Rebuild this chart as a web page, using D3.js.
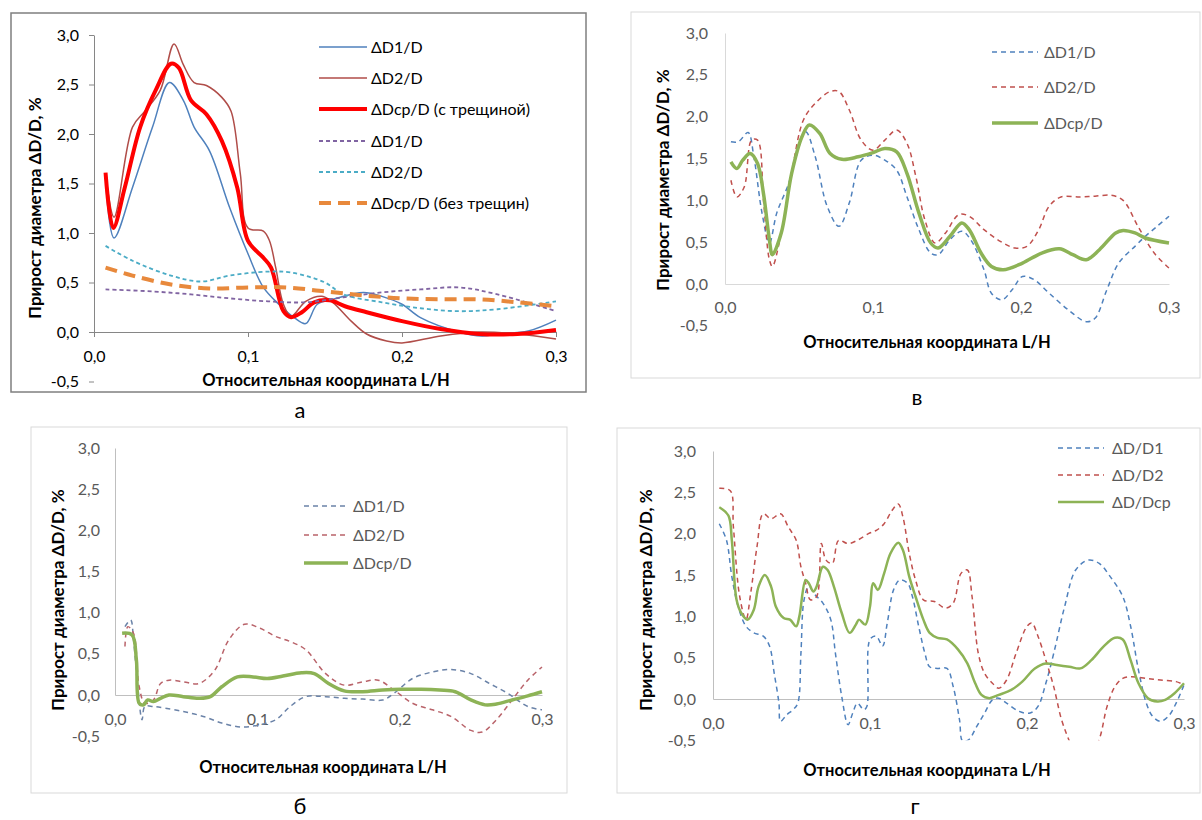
<!DOCTYPE html>
<html>
<head>
<meta charset="utf-8">
<script src="https://cdn.jsdelivr.net/npm/d3@7"></script>
<style>
  body { margin: 0; background: #fff; }
  svg { display: block; }
  text { font-family: Lato, "Open Sans", sans-serif; }
</style>
</head>
<body>
<script>
'use strict';

// ---- axis ticks (same for all four plots) ----
const xTicks = [0, 0.1, 0.2, 0.3];
const xTickLabels = ["0,0", "0,1", "0,2", "0,3"];
const yTicks = [3, 2.5, 2, 1.5, 1, 0.5, 0, -0.5];
const yTickLabels = ["3,0", "2,5", "2,0", "1,5", "1,0", "0,5", "0,0", "-0,5"];
const xTitle = "Относительная координата L/H";
const yTitle = "Прирост диаметра ΔD/D, %";

// ---- panel а : [L/H, ΔD/D %] ----
const aD1 = [[0.0075,1.55],[0.013,0.95],[0.025,1.46],[0.038,2.07],[0.049,2.52],[0.058,2.34],[0.065,2.07],
  [0.075,1.83],[0.088,1.26],[0.1,0.79],[0.11,0.45],[0.12,0.28],[0.13,0.145],[0.1375,0.085],[0.145,0.28],
  [0.155,0.33],[0.175,0.4],[0.187,0.36],[0.2,0.28],[0.212,0.145],[0.237,0],[0.252,-0.04],[0.262,-0.02],
  [0.282,0.01],[0.3,0.12]];
const aD2 = [[0.0075,1.6],[0.013,1.16],[0.025,2.07],[0.033,2.23],[0.043,2.44],[0.052,2.91],[0.058,2.7],
  [0.065,2.52],[0.073,2.49],[0.083,2.37],[0.089,2.23],[0.095,1.6],[0.1,1.05],[0.11,1.02],[0.114,0.92],
  [0.118,0.65],[0.123,0.28],[0.128,0.16],[0.1375,0.31],[0.148,0.36],[0.155,0.3],[0.167,0.11],[0.177,-0.02],
  [0.19,-0.09],[0.2,-0.11],[0.225,-0.04],[0.25,0],[0.275,-0.02],[0.3,-0.07]];
const aDcp = [[0.0075,1.61],[0.0125,1.05],[0.02,1.46],[0.03,2.07],[0.04,2.44],[0.05,2.71],[0.055,2.67],
  [0.063,2.34],[0.073,2.2],[0.083,1.93],[0.093,1.46],[0.1,0.92],[0.11,0.75],[0.115,0.65],[0.123,0.21],
  [0.128,0.15],[0.135,0.2],[0.143,0.3],[0.153,0.32],[0.163,0.26],[0.177,0.2],[0.2,0.11],[0.225,0.03],
  [0.25,-0.02],[0.275,-0.02],[0.3,0.02]];
const aD1n = [[0.0075,0.43],[0.038,0.41],[0.063,0.38],[0.088,0.34],[0.113,0.31],[0.1375,0.3],[0.162,0.35],
  [0.187,0.4],[0.212,0.43],[0.237,0.45],[0.262,0.38],[0.3,0.21]];
const aD2n = [[0.0075,0.87],[0.025,0.72],[0.05,0.57],[0.07,0.51],[0.088,0.57],[0.113,0.61],[0.128,0.6],
  [0.15,0.5],[0.162,0.38],[0.187,0.3],[0.212,0.24],[0.237,0.21],[0.262,0.23],[0.3,0.31]];
const aDcpn = [[0.0075,0.65],[0.025,0.57],[0.05,0.48],[0.075,0.44],[0.1,0.45],[0.125,0.45],[0.15,0.41],
  [0.175,0.37],[0.2,0.34],[0.225,0.33],[0.25,0.33],[0.275,0.3],[0.3,0.26]];

// ---- panel в ----
const vD1 = [[0.004,1.7],[0.009,1.7],[0.0156,1.81],[0.0195,1.52],[0.025,0.85],[0.03,0.49],[0.035,0.85],
  [0.043,1.2],[0.048,1.52],[0.0545,1.82],[0.061,1.52],[0.069,0.93],[0.077,0.69],[0.084,0.97],[0.092,1.48],
  [0.1,1.54],[0.108,1.48],[0.116,1.36],[0.123,1.04],[0.131,0.65],[0.139,0.37],[0.144,0.35],[0.152,0.53],
  [0.16,0.63],[0.166,0.53],[0.175,0.17],[0.18,-0.11],[0.187,-0.19],[0.194,-0.07],[0.201,0.09],[0.209,0.05],
  [0.219,-0.11],[0.232,-0.31],[0.244,-0.45],[0.25,-0.41],[0.258,-0.07],[0.266,0.25],[0.277,0.45],
  [0.284,0.57],[0.292,0.69],[0.3,0.81]];
const vD2 = [[0.004,1.24],[0.008,1.04],[0.013,1.16],[0.018,1.72],[0.022,1.72],[0.026,1.0],[0.03,0.29],
  [0.032,0.21],[0.038,0.61],[0.045,1.32],[0.053,1.96],[0.061,2.16],[0.071,2.3],[0.077,2.3],[0.084,2.08],
  [0.092,1.72],[0.1,1.6],[0.108,1.72],[0.116,1.84],[0.123,1.68],[0.129,1.28],[0.135,0.77],[0.142,0.49],
  [0.149,0.61],[0.158,0.83],[0.165,0.81],[0.175,0.65],[0.186,0.51],[0.196,0.43],[0.204,0.45],[0.212,0.65],
  [0.219,0.93],[0.227,1.04],[0.24,1.04],[0.25,1.05],[0.261,1.06],[0.269,1.0],[0.279,0.69],[0.29,0.37],
  [0.3,0.19]];
const vDcp = [[0.004,1.46],[0.008,1.38],[0.012,1.48],[0.017,1.56],[0.022,1.44],[0.026,1.08],[0.03,0.53],
  [0.032,0.35],[0.038,0.61],[0.045,1.32],[0.052,1.76],[0.057,1.9],[0.064,1.8],[0.071,1.56],[0.079,1.49],
  [0.09,1.52],[0.1,1.57],[0.108,1.62],[0.116,1.58],[0.123,1.32],[0.131,0.85],[0.139,0.49],[0.144,0.43],
  [0.152,0.57],[0.16,0.73],[0.165,0.65],[0.173,0.37],[0.18,0.21],[0.188,0.17],[0.201,0.25],[0.214,0.37],
  [0.226,0.42],[0.235,0.35],[0.244,0.29],[0.253,0.41],[0.264,0.61],[0.269,0.64],[0.277,0.61],[0.284,0.55],
  [0.3,0.49]];

// ---- panel б ----
const bD1 = [[0.007,0.83],[0.011,0.91],[0.013,0.67],[0.016,0.1],[0.019,-0.3],[0.021,-0.14],[0.027,-0.14],
  [0.035,-0.16],[0.048,-0.2],[0.062,-0.26],[0.075,-0.34],[0.089,-0.39],[0.102,-0.36],[0.113,-0.3],
  [0.123,-0.14],[0.134,-0.02],[0.148,-0.02],[0.161,-0.04],[0.174,-0.05],[0.188,-0.06],[0.196,0.02],
  [0.209,0.2],[0.223,0.28],[0.236,0.31],[0.25,0.26],[0.263,0.14],[0.276,0.02],[0.29,-0.14],[0.3,-0.18]];
const bD2 = [[0.007,0.59],[0.009,0.83],[0.013,0.75],[0.017,0.1],[0.021,-0.1],[0.027,-0.06],[0.032,0.14],
  [0.038,0.18],[0.048,0.16],[0.059,0.14],[0.07,0.3],[0.08,0.67],[0.091,0.86],[0.102,0.81],[0.113,0.71],
  [0.123,0.65],[0.134,0.55],[0.148,0.26],[0.161,0.12],[0.174,0.16],[0.185,0.18],[0.196,0.06],[0.209,-0.1],
  [0.223,-0.18],[0.236,-0.26],[0.25,-0.43],[0.258,-0.45],[0.268,-0.3],[0.279,-0.06],[0.29,0.18],[0.3,0.34]];
const bDcp = [[0.005,0.75],[0.012,0.73],[0.015,0.43],[0.017,-0.1],[0.02,-0.12],[0.023,-0.06],[0.027,-0.08],
  [0.032,-0.04],[0.038,0],[0.048,-0.02],[0.059,-0.04],[0.067,-0.02],[0.075,0.1],[0.086,0.22],[0.097,0.22],
  [0.107,0.2],[0.118,0.23],[0.131,0.27],[0.14,0.26],[0.15,0.14],[0.161,0.05],[0.174,0.04],[0.188,0.06],
  [0.201,0.07],[0.215,0.07],[0.228,0.06],[0.239,0.04],[0.25,-0.06],[0.26,-0.12],[0.268,-0.11],
  [0.279,-0.06],[0.29,-0.01],[0.3,0.04]];

// ---- panel г ----
const gD1 = [[0.004,2.12],[0.0086,1.92],[0.012,1.48],[0.016,1.12],[0.021,0.88],[0.026,0.8],[0.032,0.76],
  [0.036,0.64],[0.039,0.31],[0.042,-0.05],[0.043,-0.27],[0.047,-0.19],[0.051,-0.13],[0.054,-0.05],
  [0.056,0.55],[0.058,1.2],[0.061,1.36],[0.065,1.26],[0.07,1.16],[0.075,0.96],[0.078,0.55],[0.082,0.03],
  [0.086,-0.31],[0.089,-0.17],[0.092,-0.05],[0.096,-0.13],[0.098,-0.09],[0.1,0.72],[0.104,0.76],
  [0.108,0.64],[0.111,0.92],[0.115,1.32],[0.119,1.44],[0.124,1.4],[0.127,1.24],[0.131,0.88],[0.135,0.55],
  [0.138,0.39],[0.143,0.37],[0.149,0.37],[0.153,0.15],[0.157,-0.25],[0.159,-0.51],[0.163,-0.49],
  [0.168,-0.33],[0.173,-0.17],[0.178,-0.01],[0.182,0.01],[0.187,-0.05],[0.195,-0.15],[0.202,-0.17],
  [0.207,-0.09],[0.212,0.19],[0.217,0.55],[0.224,1.12],[0.231,1.56],[0.239,1.68],[0.246,1.64],
  [0.253,1.48],[0.261,1.24],[0.266,0.88],[0.271,0.35],[0.276,-0.05],[0.28,-0.21],[0.285,-0.27],
  [0.29,-0.21],[0.295,-0.05],[0.3,0.17]];
const gD2 = [[0.004,2.55],[0.011,2.52],[0.013,2.08],[0.017,1.24],[0.021,0.96],[0.024,1.28],[0.028,1.84],
  [0.032,2.24],[0.037,2.18],[0.043,2.24],[0.048,2.08],[0.053,1.92],[0.056,1.6],[0.059,1.4],[0.062,1.2],
  [0.066,1.24],[0.069,1.88],[0.072,1.68],[0.076,1.64],[0.08,1.92],[0.086,1.88],[0.092,1.92],[0.099,2.0],
  [0.104,2.04],[0.109,2.12],[0.114,2.28],[0.118,2.36],[0.121,2.2],[0.125,1.76],[0.129,1.44],[0.134,1.2],
  [0.141,1.18],[0.148,1.1],[0.153,1.16],[0.158,1.52],[0.162,1.56],[0.165,1.24],[0.169,0.55],[0.173,0.31],
  [0.178,0.19],[0.182,0.13],[0.187,0.23],[0.193,0.55],[0.2,0.88],[0.203,0.92],[0.207,0.76],[0.212,0.47],
  [0.217,0.15],[0.222,-0.25],[0.227,-0.51],[0.236,-0.9],[0.246,-0.49],[0.251,-0.09],[0.256,0.15],
  [0.261,0.25],[0.266,0.27],[0.276,0.25],[0.285,0.23],[0.295,0.21],[0.3,0.17]];
const gDcp = [[0.004,2.32],[0.0098,2.22],[0.012,1.92],[0.015,1.2],[0.018,1.04],[0.022,0.96],[0.026,1.08],
  [0.029,1.36],[0.033,1.5],[0.037,1.36],[0.04,1.12],[0.045,0.98],[0.049,0.96],[0.053,0.88],[0.055,1.0],
  [0.059,1.44],[0.061,1.4],[0.064,1.3],[0.066,1.36],[0.07,1.6],[0.073,1.56],[0.077,1.36],[0.082,1.04],
  [0.087,0.8],[0.091,0.9],[0.093,0.96],[0.097,0.9],[0.1,1.12],[0.102,1.4],[0.105,1.32],[0.109,1.52],
  [0.113,1.76],[0.118,1.89],[0.121,1.8],[0.125,1.48],[0.129,1.24],[0.134,0.96],[0.138,0.8],[0.143,0.74],
  [0.149,0.72],[0.156,0.6],[0.162,0.43],[0.167,0.19],[0.171,0.05],[0.176,0.01],[0.182,0.05],[0.19,0.11],
  [0.197,0.21],[0.205,0.37],[0.212,0.43],[0.219,0.41],[0.227,0.39],[0.234,0.37],[0.241,0.47],[0.249,0.64],
  [0.256,0.74],[0.261,0.72],[0.266,0.47],[0.271,0.19],[0.277,0.01],[0.283,-0.03],[0.288,-0.01],
  [0.294,0.07],[0.3,0.19]];

const svg = d3.select("body").append("svg")
    .attr("width", 1202)
    .attr("height", 820);

// layout of each plot (pixels) and the styles of its lines
const panels = [
  {
    id: "a", caption: "а", capPos: [300, 410],
    frame: [11, 13, 586, 392], frameColor: "#7f7f7f", frameWidth: 1.5,
    x0: 94, x1: 556, yTop: 35, yZero: 332,
    textColor: "#000", axisColor: "#868686", tick: 5,
    yLabelGap: 10, xLabelGap: 14,
    xTitlePos: [326, 380], yTitlePos: [35, 208],
    legend: { x0: 319, x1: 367, tx: 371, ys: [47, 78, 109, 141, 172, 203] },
    series: [
      { data: aD1, label: "ΔD1/D", color: "#4f81bd", width: 1.5 },
      { data: aD2, label: "ΔD2/D", color: "#b04d49", width: 1.5 },
      { data: aDcp, label: "ΔDcp/D (с трещиной)", color: "#ff0000", width: 4 },
      { data: aD1n, label: "ΔD1/D", color: "#8064a2", width: 1.8, dash: "4,3" },
      { data: aD2n, label: "ΔD2/D", color: "#4bacc6", width: 1.8, dash: "4,3" },
      { data: aDcpn, label: "ΔDcp/D (без трещин)", color: "#e8893c", width: 4, dash: "12,7" }
    ]
  },
  {
    id: "v", caption: "в", capPos: [917, 397],
    frame: [631, 12, 1200, 378], frameColor: "#d9d9d9", frameWidth: 1,
    x0: 725, x1: 1169, yTop: 33, yZero: 284,
    textColor: "#595959", axisColor: "#d9d9d9", tick: 0,
    yLabelGap: 17, xLabelGap: 18,
    xTitlePos: [927, 342], yTitlePos: [663, 180],
    legend: { x0: 992, x1: 1038, tx: 1044, ys: [52, 87, 123] },
    series: [
      { data: vD1, label: "ΔD1/D", color: "#4f81bd", width: 1.5, dash: "5,4" },
      { data: vD2, label: "ΔD2/D", color: "#c0504d", width: 1.5, dash: "5,4" },
      { data: vDcp, label: "ΔDcp/D", color: "#8db356", width: 3.5 }
    ]
  },
  {
    id: "b", caption: "б", capPos: [300, 806],
    frame: [31, 427, 567, 793], frameColor: "#d9d9d9", frameWidth: 1,
    x0: 115, x1: 542, yTop: 448, yZero: 695,
    textColor: "#595959", axisColor: "#bfbfbf", tick: 0,
    yLabelGap: 15, xLabelGap: 19,
    xTitlePos: [323, 767], yTitlePos: [58, 600],
    legend: { x0: 304, x1: 348, tx: 353, ys: [506, 535, 563] },
    series: [
      { data: bD1, label: "ΔD1/D", color: "#6b83a8", width: 1.5, dash: "5,4" },
      { data: bD2, label: "ΔD2/D", color: "#b9636a", width: 1.5, dash: "5,4" },
      { data: bDcp, label: "ΔDcp/D", color: "#8db356", width: 3.5 }
    ]
  },
  {
    id: "g", caption: "г", capPos: [915, 806],
    frame: [617, 428, 1200, 793], frameColor: "#d9d9d9", frameWidth: 1,
    x0: 713, x1: 1184, yTop: 451, yZero: 699,
    textColor: "#595959", axisColor: "#bfbfbf", tick: 0,
    yLabelGap: 17, xLabelGap: 19,
    xTitlePos: [927, 770], yTitlePos: [646, 600],
    legend: { x0: 1058, x1: 1104, tx: 1112, ys: [448, 475, 502] },
    series: [
      { data: gD1, label: "ΔD/D1", color: "#4f81bd", width: 1.5, dash: "5,4" },
      { data: gD2, label: "ΔD/D2", color: "#c0504d", width: 1.5, dash: "5,4" },
      { data: gDcp, label: "ΔD/Dcp", color: "#8db356", width: 2.5 }
    ]
  }
];

panels.forEach(drawPanel);

function drawPanel(p) {
    const g = svg.append("g").attr("class", "panel-" + p.id);
    const [fx0, fy0, fx1, fy1] = p.frame;

    // outer chart border
    g.append("rect")
        .attr("x", fx0).attr("y", fy0)
        .attr("width", fx1 - fx0).attr("height", fy1 - fy0)
        .attr("fill", "#fff")
        .attr("stroke", p.frameColor)
        .attr("stroke-width", p.frameWidth);

    const x = d3.scaleLinear().domain([0, 0.3]).range([p.x0, p.x1]);
    const y = d3.scaleLinear().domain([0, 3]).range([p.yZero, p.yTop]);

    // y axis
    const yAxis = g.append("g")
        .attr("transform", "translate(" + p.x0 + ",0)")
        .call(d3.axisLeft(y)
            .tickValues(yTicks)
            .tickFormat((d, i) => yTickLabels[i])
            .tickSize(p.tick)
            .tickSizeOuter(0)
            .tickPadding(p.yLabelGap));
    yAxis.select(".domain").attr("stroke", p.axisColor);
    yAxis.selectAll(".tick line").attr("stroke", p.axisColor);
    yAxis.selectAll("text")
        .attr("fill", p.textColor)
        .attr("font-size", "16px");

    // x axis at zero
    const xAxis = g.append("g")
        .attr("transform", "translate(0," + p.yZero + ")")
        .call(d3.axisBottom(x)
            .tickValues(xTicks)
            .tickFormat((d, i) => xTickLabels[i])
            .tickSize(p.tick)
            .tickSizeOuter(0)
            .tickPadding(p.xLabelGap));
    xAxis.select(".domain").attr("stroke", p.axisColor);
    xAxis.selectAll(".tick line").attr("stroke", p.axisColor);
    xAxis.selectAll("text")
        .attr("fill", p.textColor)
        .attr("font-size", "16px");

    // clip the curves to the value range shown
    g.append("clipPath").attr("id", "clip-" + p.id)
        .append("rect")
        .attr("x", p.x0 - 5).attr("y", y(3.2))
        .attr("width", p.x1 - p.x0 + 10)
        .attr("height", y(-0.5) - y(3.2));

    const line = d3.line()
        .x(d => x(d[0]))
        .y(d => y(d[1]))
        .curve(d3.curveCatmullRom.alpha(0.5));

    g.append("g").attr("clip-path", "url(#clip-" + p.id + ")")
        .selectAll("path")
        .data(p.series)
        .enter()
        .append("path")
            .attr("d", d => line(d.data))
            .attr("fill", "none")
            .attr("stroke", d => d.color)
            .attr("stroke-width", d => d.width)
            .attr("stroke-dasharray", d => d.dash || null)
            .attr("stroke-linejoin", "round");

    // legend
    const leg = g.append("g");
    leg.selectAll("line")
        .data(p.series)
        .enter()
        .append("line")
            .attr("x1", p.legend.x0)
            .attr("x2", p.legend.x1)
            .attr("y1", (d, i) => p.legend.ys[i])
            .attr("y2", (d, i) => p.legend.ys[i])
            .attr("stroke", d => d.color)
            .attr("stroke-width", d => d.width)
            .attr("stroke-dasharray", d => d.dash || null);
    leg.selectAll("text")
        .data(p.series)
        .enter()
        .append("text")
            .attr("x", p.legend.tx)
            .attr("y", (d, i) => p.legend.ys[i])
            .attr("dy", "0.35em")
            .attr("font-size", "16px")
            .attr("fill", p.textColor)
            .text(d => d.label);

    // axis titles
    g.append("text")
        .attr("x", p.xTitlePos[0])
        .attr("y", p.xTitlePos[1])
        .attr("dy", "0.35em")
        .attr("text-anchor", "middle")
        .attr("font-size", "16.5px")
        .attr("font-weight", "bold")
        .attr("fill", "#000")
        .text(xTitle);
    g.append("text")
        .attr("transform", "translate(" + p.yTitlePos[0] + "," + p.yTitlePos[1] + ") rotate(-90)")
        .attr("dy", "0.35em")
        .attr("text-anchor", "middle")
        .attr("font-size", "17px")
        .attr("font-weight", "bold")
        .attr("fill", "#000")
        .text(yTitle);

    // caption under the chart
    svg.append("text")
        .attr("x", p.capPos[0])
        .attr("y", p.capPos[1])
        .attr("dy", "0.35em")
        .attr("text-anchor", "middle")
        .attr("font-size", "22px")
        .attr("fill", "#000")
        .text(p.caption);
}
</script>
</body>
</html>
